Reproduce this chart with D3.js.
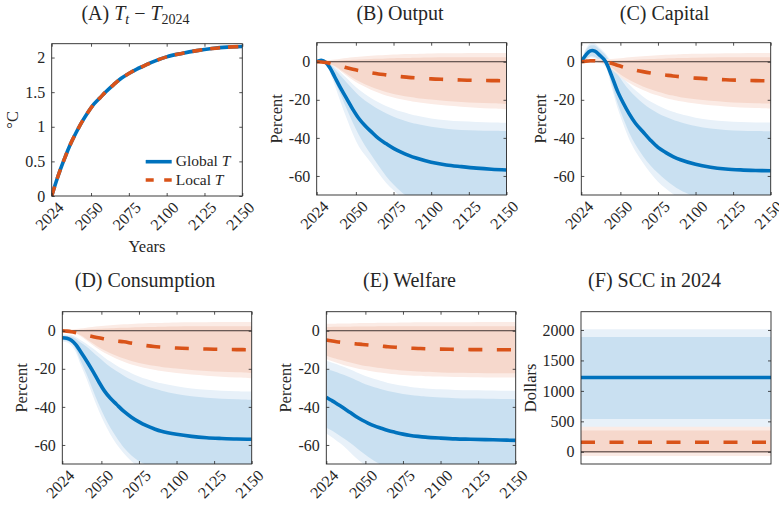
<!DOCTYPE html>
<html><head><meta charset="utf-8">
<script src="https://cdn.jsdelivr.net/npm/d3@7"></script>
<style>
body{margin:0;background:#fff;}
text{font-family:"Liberation Serif","Times New Roman",serif;fill:#262626;}
</style></head><body>
<script>
// ---------- data ----------
const years = [2024, 2027, 2030, 2033, 2036, 2040, 2044, 2048, 2052, 2056, 2060, 2065, 2070, 2075, 2080, 2085, 2090, 2100, 2110, 2120, 2130, 2140, 2150];
const xTicks = [2024, 2050, 2075, 2100, 2125, 2150];
const tempTicks = [0, 0.5, 1, 1.5, 2];
const pctTicks = [0, -20, -40, -60];
const sccTicks = [0, 500, 1000, 1500, 2000];

// (A) temperature
const tempGlobal = [0, 0.21, 0.40, 0.57, 0.73, 0.91, 1.07, 1.21, 1.33, 1.42, 1.51, 1.61, 1.70, 1.77, 1.83, 1.88, 1.93, 2.01, 2.06, 2.10, 2.13, 2.15, 2.16];
const tempLocal  = [0, 0.21, 0.40, 0.57, 0.73, 0.91, 1.07, 1.21, 1.33, 1.42, 1.51, 1.61, 1.70, 1.77, 1.83, 1.88, 1.93, 2.01, 2.06, 2.10, 2.13, 2.15, 2.16];

// (B) output
const outGMean  = [0, 0.8, -0.3, -3.5, -8, -14, -19.5, -25, -29.8, -33.5, -36.6, -40.3, -43, -45.5, -47.5, -49.2, -50.6, -52.8, -54.2, -55.1, -55.9, -56.5, -56.9];
const outGInHi  = [0, 1.2, 0.8, -1.2, -4, -7.5, -11, -14.5, -17.7, -20.3, -22.5, -25, -27.1, -28.9, -30.4, -31.6, -32.6, -34.2, -35.2, -35.8, -36.1, -36.3, -36.4];
const outGOutHi = [0, 1.5, 1.1, -0.5, -2.8, -5.6, -8.7, -11.8, -14.6, -17, -19, -21.3, -23.2, -24.8, -26.2, -27.3, -28.3, -29.8, -30.7, -31.3, -31.6, -31.9, -32];
const outGInLo  = [0, 0.4, -0.8, -5, -10.5, -17.5, -25, -32, -38.5, -44, -48.7, -54.5, -60, -64.5, -68.3, -71.3, -73.8, -77.2, -79.3, -80.6, -81.4, -81.9, -82.2];
const outGOutLo = [0, 0.2, -1.2, -6, -12.5, -21.5, -30, -38, -44.5, -49, -53, -58.5, -63.5, -67.5, -71, -73.8, -76, -79.3, -81.5, -83, -84, -84.7, -85.2];
const outLMean  = [0, -0.1, -0.4, -0.9, -1.5, -2.3, -3.2, -4.0, -4.7, -5.3, -5.8, -6.4, -6.9, -7.4, -7.8, -8.2, -8.5, -9.0, -9.3, -9.6, -9.8, -9.9, -10];
const outLInHi  = [0, 0.1, 0.2, 0.35, 0.5, 0.7, 0.9, 1.05, 1.2, 1.35, 1.5, 1.6, 1.75, 1.85, 1.95, 2.0, 2.1, 2.2, 2.3, 2.35, 2.4, 2.4, 2.4];
const outLOutHi = [0, 0.3, 0.6, 0.9, 1.2, 1.6, 2.0, 2.3, 2.6, 2.9, 3.1, 3.35, 3.55, 3.75, 3.9, 4.0, 4.1, 4.3, 4.4, 4.5, 4.55, 4.6, 4.6];
const outLInLo  = [0, -0.2, -0.5, -1.2, -2.3, -4.3, -6.5, -8.5, -10.3, -11.8, -13.1, -14.6, -15.9, -16.9, -17.7, -18.4, -19.0, -19.9, -20.6, -21.1, -21.5, -21.8, -22.2];
const outLOutLo = [0, -0.3, -0.7, -1.5, -2.8, -5, -7.4, -9.6, -11.6, -13.2, -14.7, -16.3, -17.7, -18.8, -19.7, -20.5, -21.2, -22.2, -23, -23.6, -24.2, -24.6, -25];

// (C) capital
const capGMean  = [0, 3.5, 5.7, 5.6, 3.6, 0.3, -7.0, -15.3, -21.8, -27.5, -32.3, -36.8, -41.2, -45.0, -47.6, -49.8, -51.5, -53.9, -55.4, -56.3, -56.8, -57.1, -57.3];
const capGInHi  = [0, 6, 8.5, 8.5, 6.5, 3.5, -1.5, -6.5, -11, -15, -18.3, -21.8, -24.7, -27, -28.9, -30.5, -31.8, -33.8, -35.1, -35.8, -36.2, -36.4, -36.5];
const capGOutHi = [0, 6.8, 9.6, 9.6, 7.5, 4.5, 0, -4.5, -8.5, -12, -15, -18.2, -20.9, -23, -24.8, -26.3, -27.5, -29.4, -30.6, -31.3, -31.7, -31.9, -32];
const capGInLo  = [0, 1.5, 2.8, 2.5, 0.8, -1.5, -11, -21.5, -30, -37.5, -43.5, -49.5, -54.5, -58.5, -62, -65, -67.5, -71, -73, -74.5, -75.5, -76, -76.5];
const capGOutLo = [0, 1.0, 2.2, 1.8, 0, -2.5, -13, -24, -33, -41, -47, -53, -58.5, -63, -66.5, -69.5, -72, -75.5, -77.5, -79, -80, -80.5, -81];
const capLMean  = [0, 0.3, 0.5, 0.5, 0.3, 0, -0.8, -1.8, -2.8, -3.6, -4.4, -5.2, -5.9, -6.5, -7.0, -7.5, -7.9, -8.6, -9.1, -9.5, -9.7, -9.9, -10];
const capLInHi  = [0, 0.5, 0.9, 1.0, 0.9, 0.7, 0.6, 0.7, 0.8, 0.95, 1.1, 1.3, 1.45, 1.6, 1.75, 1.85, 1.95, 2.1, 2.2, 2.3, 2.35, 2.4, 2.4];
const capLOutHi = [0, 0.7, 1.3, 1.5, 1.5, 1.4, 1.5, 1.7, 2.0, 2.3, 2.6, 2.9, 3.2, 3.45, 3.65, 3.8, 3.95, 4.15, 4.3, 4.45, 4.5, 4.55, 4.6];
const capLInLo  = [0, 0.1, 0.1, 0, -0.3, -1.0, -3.0, -5.5, -7.8, -9.6, -11.2, -13.0, -14.5, -15.8, -16.9, -17.8, -18.6, -19.7, -20.5, -21.1, -21.5, -21.8, -22];
const capLOutLo = [0, 0, -0.1, -0.3, -0.7, -1.5, -3.8, -6.6, -9.2, -11.2, -13, -14.9, -16.5, -17.8, -19, -20, -20.8, -22, -22.9, -23.5, -24, -24.3, -24.5];

// (D) consumption
const conGMean  = [-3.7, -4.0, -5.0, -7.3, -10.8, -15.6, -20.8, -26.4, -31.6, -35.5, -38.6, -42.4, -45.4, -47.9, -49.9, -51.5, -52.8, -54.4, -55.5, -56.2, -56.6, -56.9, -57];
const conGInHi  = [-2.6, -2.7, -3.0, -4.2, -6.0, -8.3, -11, -13.8, -16.5, -19, -21.2, -23.6, -25.8, -27.6, -29.1, -30.4, -31.5, -33.2, -34.4, -35.2, -35.7, -36.0, -36.3];
const conGOutHi = [-1.8, -2.0, -2.3, -3.3, -4.8, -6.8, -9.1, -11.6, -14, -16.2, -18.2, -20.4, -22.3, -24, -25.4, -26.6, -27.6, -29.2, -30.3, -31.0, -31.5, -31.8, -32.0];
const conGInLo  = [-4.8, -5.2, -6.5, -9.8, -15.5, -22.5, -30.5, -38.2, -45, -51, -56, -61.5, -65.5, -68.5, -70.5, -72.5, -74, -76.5, -78.2, -79.3, -80, -80.5, -81];
const conGOutLo = [-5.6, -6.0, -7.6, -11.3, -17.5, -25, -33.5, -41.5, -48.5, -54.5, -59.5, -64.5, -68.5, -71.5, -74, -76, -77.5, -80, -81.5, -82.5, -83, -83.5, -84];
const conLMean  = [0, -0.2, -0.5, -1.0, -1.6, -2.3, -3.0, -3.7, -4.3, -4.9, -5.4, -5.8, -6.5, -7.2, -7.8, -8.3, -8.6, -9.1, -9.4, -9.6, -9.8, -9.9, -10];
const conLInHi  = [0, 0.1, 0.2, 0.35, 0.5, 0.7, 0.9, 1.05, 1.2, 1.35, 1.5, 1.6, 1.75, 1.85, 1.95, 2.0, 2.1, 2.2, 2.3, 2.35, 2.4, 2.4, 2.4];
const conLOutHi = [0, 0.3, 0.6, 0.9, 1.2, 1.6, 2.0, 2.3, 2.6, 2.9, 3.1, 3.35, 3.55, 3.75, 3.9, 4.0, 4.1, 4.3, 4.4, 4.5, 4.55, 4.6, 4.6];
const conLInLo  = [0, -0.2, -0.5, -1.2, -2.3, -4.3, -6.5, -8.5, -10.3, -11.8, -13.1, -14.6, -15.9, -16.9, -17.7, -18.4, -19.0, -19.9, -20.6, -21.1, -21.5, -21.8, -22.2];
const conLOutLo = [0, -0.3, -0.7, -1.5, -2.8, -5, -7.4, -9.6, -11.6, -13.2, -14.7, -16.3, -17.7, -18.8, -19.7, -20.5, -21.2, -22.2, -23, -23.6, -24.2, -24.6, -25];

// (E) welfare
const welGMean  = [-35, -36.4, -37.8, -39.3, -40.9, -43, -45.2, -47, -48.6, -50, -51.1, -52.4, -53.4, -54.3, -55, -55.5, -55.9, -56.4, -56.8, -57.0, -57.2, -57.4, -57.6];
const welGInHi  = [-20.2, -20.8, -21.5, -22.4, -23.3, -24.6, -26, -27.4, -28.6, -29.7, -30.6, -31.7, -32.5, -33.2, -33.8, -34.2, -34.6, -35.1, -35.4, -35.6, -35.7, -35.8, -35.9];
const welGOutHi = [-15.8, -16.5, -17.3, -18.2, -19.1, -20.4, -21.8, -23.1, -24.3, -25.4, -26.3, -27.4, -28.2, -28.9, -29.5, -29.9, -30.3, -30.8, -31.1, -31.3, -31.4, -31.5, -31.6];
const welGInLo  = [-51, -52.2, -53.6, -55.2, -56.8, -59, -61.5, -64, -66.3, -68.4, -70.2, -72.3, -74, -75.5, -76.7, -77.7, -78.5, -79.7, -80.5, -81, -81.3, -81.5, -81.7];
const welGOutLo = [-54, -55.5, -57.2, -59, -61, -64, -67, -69.5, -72, -74, -75.7, -77.5, -79, -80.3, -81.3, -82.1, -82.8, -83.8, -84.5, -85, -85.3, -85.5, -85.7];
const welLMean  = [-4.9, -5.3, -5.7, -6.0, -6.3, -6.6, -6.9, -7.2, -7.5, -7.8, -8.0, -8.4, -8.7, -8.95, -9.15, -9.3, -9.45, -9.65, -9.8, -9.9, -9.95, -10, -10];
const welLInHi  = [2.0, 2.0, 2.05, 2.1, 2.1, 2.15, 2.2, 2.2, 2.25, 2.25, 2.3, 2.3, 2.3, 2.35, 2.35, 2.35, 2.4, 2.4, 2.4, 2.4, 2.4, 2.4, 2.4];
const welLOutHi = [3.6, 3.65, 3.7, 3.75, 3.8, 3.85, 3.9, 4.0, 4.05, 4.1, 4.15, 4.2, 4.25, 4.3, 4.35, 4.4, 4.4, 4.45, 4.5, 4.5, 4.55, 4.55, 4.6];
const welLInLo  = [-13.2, -13.9, -14.6, -15.3, -15.9, -16.7, -17.5, -18.2, -18.7, -19.2, -19.6, -20.1, -20.5, -20.9, -21.2, -21.4, -21.6, -21.9, -22.1, -22.2, -22.3, -22.3, -22.3];
const welLOutLo = [-15, -15.8, -16.6, -17.4, -18.1, -18.9, -19.7, -20.4, -21, -21.5, -21.9, -22.4, -22.8, -23.2, -23.5, -23.7, -23.9, -24.1, -24.3, -24.4, -24.5, -24.5, -24.5];

// (F) SCC in 2024 (dollars)
const sccSpan = [0, 1];
const sccGlobal = 1220;
const sccGlobalIn = [540, 1885];
const sccGlobalOut = [405, 2010];
const sccLocal = 158;
const sccLocalIn = [-15, 350];
const sccLocalOut = [-70, 410];

// ---------- styles ----------
const BLUE = "#0072BD", ORANGE = "#D95319";
const BLUE_IN = "#c9e0f1", BLUE_OUT = "#e8f1f9", OR_IN = "#f6d8cc", OR_OUT = "#fbebe5";
const AX = "#262626";
const CURVE = d3.curveCatmullRom.alpha(0.5);

const svg = d3.select("body").append("svg").attr("width", 779).attr("height", 507);
const defs = svg.append("defs");
let clipN = 0;

function panel(p) {
  const x = d3.scaleLinear().domain(p.xDomain).range([p.x0, p.x1]);
  const y = d3.scaleLinear().domain(p.yDomain).range([p.y1, p.y0]);
  const g = svg.append("g");
  const id = "clip" + (clipN++);
  defs.append("clipPath").attr("id", id).append("rect")
    .attr("x", p.x0).attr("y", p.y0).attr("width", p.x1 - p.x0).attr("height", p.y1 - p.y0);
  const plot = g.append("g").attr("clip-path", `url(#${id})`);
  const xs = p.xs;
  (p.bands || []).forEach(b => {
    const area = d3.area().x((d, i) => x(xs[i])).y0((d, i) => y(b.lo[i])).y1((d, i) => y(b.hi[i]))
      .curve(CURVE);
    plot.append("path").attr("d", area(xs)).attr("fill", b.color);
  });
  if (p.zero) {
    plot.append("line").attr("x1", p.x0).attr("x2", p.x1).attr("y1", y(0)).attr("y2", y(0))
      .attr("stroke", "#2a2020").attr("stroke-width", 0.9);
  }
  (p.lines || []).forEach(l => {
    const line = d3.line().x((d, i) => x(xs[i])).y((d, i) => y(l.v[i])).curve(CURVE);
    plot.append("path").attr("d", line(xs)).attr("fill", "none").attr("stroke", l.color)
      .attr("stroke-width", 3.6).attr("stroke-dasharray", l.dash || null);
  });
  // axes
  const fmt = d => String(d);
  const left = g.append("g").attr("transform", `translate(${p.x0},0)`)
    .call(d3.axisLeft(y).tickValues(p.yTicks).tickSizeInner(-3).tickSizeOuter(0).tickPadding(6.5).tickFormat(fmt));
  const right = g.append("g").attr("transform", `translate(${p.x1},0)`)
    .call(d3.axisRight(y).tickValues(p.yTicks).tickSizeInner(-3).tickSizeOuter(0).tickFormat(""));
  const axes = [left, right];
  if (p.xTicks) {
    const bottom = g.append("g").attr("transform", `translate(0,${p.y1})`)
      .call(d3.axisBottom(x).tickValues(p.xTicks).tickSizeInner(-3).tickSizeOuter(0).tickFormat(fmt));
    const top = g.append("g").attr("transform", `translate(0,${p.y0})`)
      .call(d3.axisTop(x).tickValues(p.xTicks).tickSizeInner(-3).tickSizeOuter(0).tickFormat(""));
    bottom.selectAll("text").attr("x", 0).attr("y", 0).attr("dy", null)
      .attr("text-anchor", "end").attr("transform", "translate(12.5,12.5) rotate(-45)");
    axes.push(bottom, top);
  }
  axes.forEach(a => {
    a.select(".domain").remove();
    a.selectAll("line").attr("stroke", AX).attr("stroke-width", 0.8);
    a.selectAll("text").attr("fill", AX).style("font-size", "16px")
      .style("font-family", '"Liberation Serif", serif');
  });
  g.append("rect").attr("x", p.x0).attr("y", p.y0).attr("width", p.x1 - p.x0).attr("height", p.y1 - p.y0)
    .attr("fill", "none").attr("stroke", AX).attr("stroke-width", 0.9);
  // y label
  const cy = (p.y0 + p.y1) / 2;
  g.append("text").attr("x", p.ylabelX).attr("y", cy).attr("dy", "0.35em")
    .attr("text-anchor", "middle").attr("transform", `rotate(-90,${p.ylabelX},${cy})`)
    .style("font-size", "16.5px").text(p.ylabel);
  // title
  const t = g.append("text").attr("x", p.titleX).attr("y", p.titleY).attr("text-anchor", "middle")
    .style("font-size", "20px").attr("fill", "#111");
  p.title(t);
  return { x, y, g };
}

function simpleTitle(s) { return t => t.text(s); }

function gBands(inLo, inHi, outLo, outHi, lInLo, lInHi, lOutLo, lOutHi) {
  return [
    { lo: outLo, hi: outHi, color: BLUE_OUT },
    { lo: inLo, hi: inHi, color: BLUE_IN },
    { lo: lOutLo, hi: lOutHi, color: OR_OUT },
    { lo: lInLo, hi: lInHi, color: OR_IN }
  ];
}

const DASH = "14,14.5";
const pctDomain = [-70, 10];

// (A)
const pA = panel({
  x0: 51.7, x1: 242.3, y0: 43.7, y1: 196, xs: years, xDomain: [2024, 2150], yDomain: [0, 2.2],
  yTicks: tempTicks, xTicks: xTicks, ylabel: "°C", ylabelX: 12, titleX: 135.5, titleY: 19.5,
  lines: [{ v: tempGlobal, color: BLUE }, { v: tempLocal, color: ORANGE, dash: "10,8" }],
  title: t => {
    t.append("tspan").text("(A) ");
    t.append("tspan").style("font-style", "italic").text("T");
    t.append("tspan").style("font-style", "italic").style("font-size", "14px").attr("dy", 4).text("t");
    t.append("tspan").attr("dy", -4).text(" \u2212 ");
    t.append("tspan").style("font-style", "italic").text("T");
    t.append("tspan").style("font-size", "14px").attr("dy", 4).text("2024");
  }
});
pA.g.append("text").attr("x", 147).attr("y", 252.3).attr("text-anchor", "middle")
  .style("font-size", "16.5px").text("Years");
// legend
const legItems = [{ c: BLUE, d: null, lab: "Global ", ly: 161.7 }, { c: ORANGE, d: "8,10.5", lab: "Local ", ly: 180 }];
legItems.forEach(li => {
  pA.g.append("line").attr("x1", 145.7).attr("x2", 171.7).attr("y1", li.ly).attr("y2", li.ly)
    .attr("stroke", li.c).attr("stroke-width", 3.6).attr("stroke-dasharray", li.d);
  const tx = pA.g.append("text").attr("x", 175.7).attr("y", li.ly + 4.5).style("font-size", "15.5px");
  tx.append("tspan").text(li.lab);
  tx.append("tspan").style("font-style", "italic").text("T");
});

// (B)
panel({
  x0: 316.7, x1: 506.5, y0: 42.7, y1: 195, xs: years, xDomain: [2024, 2150], yDomain: pctDomain,
  yTicks: pctTicks, xTicks: xTicks, ylabel: "Percent", ylabelX: 276, titleX: 400, titleY: 19.5, zero: true,
  bands: gBands(outGInLo, outGInHi, outGOutLo, outGOutHi, outLInLo, outLInHi, outLOutLo, outLOutHi),
  lines: [{ v: outGMean, color: BLUE }, { v: outLMean, color: ORANGE, dash: DASH }],
  title: simpleTitle("(B) Output")
});
// (C)
panel({
  x0: 581.3, x1: 770.7, y0: 42.7, y1: 195, xs: years, xDomain: [2024, 2150], yDomain: pctDomain,
  yTicks: pctTicks, xTicks: xTicks, ylabel: "Percent", ylabelX: 540.5, titleX: 664.5, titleY: 19.5, zero: true,
  bands: gBands(capGInLo, capGInHi, capGOutLo, capGOutHi, capLInLo, capLInHi, capLOutLo, capLOutHi),
  lines: [{ v: capGMean, color: BLUE }, { v: capLMean, color: ORANGE, dash: DASH }],
  title: simpleTitle("(C) Capital")
});
// (D)
panel({
  x0: 62.3, x1: 251.7, y0: 311.7, y1: 464, xs: years, xDomain: [2024, 2150], yDomain: pctDomain,
  yTicks: pctTicks, xTicks: xTicks, ylabel: "Percent", ylabelX: 21, titleX: 145, titleY: 286.7, zero: true,
  bands: gBands(conGInLo, conGInHi, conGOutLo, conGOutHi, conLInLo, conLInHi, conLOutLo, conLOutHi),
  lines: [{ v: conGMean, color: BLUE }, { v: conLMean, color: ORANGE, dash: DASH }],
  title: simpleTitle("(D) Consumption")
});
// (E)
panel({
  x0: 326.3, x1: 515.7, y0: 311.7, y1: 464, xs: years, xDomain: [2024, 2150], yDomain: pctDomain,
  yTicks: pctTicks, xTicks: xTicks, ylabel: "Percent", ylabelX: 285.5, titleX: 409.5, titleY: 286.7, zero: true,
  bands: gBands(welGInLo, welGInHi, welGOutLo, welGOutHi, welLInLo, welLInHi, welLOutLo, welLOutHi),
  lines: [{ v: welGMean, color: BLUE }, { v: welLMean, color: ORANGE, dash: DASH }],
  title: simpleTitle("(E) Welfare")
});
// (F)
panel({
  x0: 581, x1: 771, y0: 311.7, y1: 464, xs: sccSpan, xDomain: [0, 1], yDomain: [-200, 2300],
  yTicks: sccTicks, xTicks: null, ylabel: "Dollars", ylabelX: 530, titleX: 654.5, titleY: 286.7, zero: true,
  bands: [
    { lo: sccSpan.map(() => sccGlobalOut[0]), hi: sccSpan.map(() => sccGlobalOut[1]), color: BLUE_OUT },
    { lo: sccSpan.map(() => sccGlobalIn[0]), hi: sccSpan.map(() => sccGlobalIn[1]), color: BLUE_IN },
    { lo: sccSpan.map(() => sccLocalOut[0]), hi: sccSpan.map(() => sccLocalOut[1]), color: OR_OUT },
    { lo: sccSpan.map(() => sccLocalIn[0]), hi: sccSpan.map(() => sccLocalIn[1]), color: OR_IN }
  ],
  lines: [{ v: sccSpan.map(() => sccGlobal), color: BLUE }, { v: sccSpan.map(() => sccLocal), color: ORANGE, dash: DASH }],
  title: simpleTitle("(F) SCC in 2024")
});
</script>
</body></html>
